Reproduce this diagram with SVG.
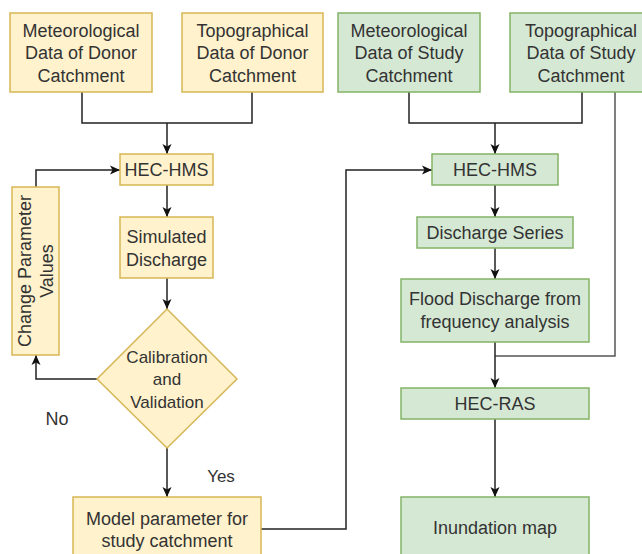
<svg xmlns="http://www.w3.org/2000/svg" width="642" height="554" viewBox="0 0 642 554">
<defs>
<marker id="arr" viewBox="0 0 10 10" refX="10" refY="5" markerWidth="10" markerHeight="10" markerUnits="userSpaceOnUse" orient="auto">
<path d="M0,0.5 L10,5 L0,9.5 L2.5,5 z" fill="#111"/>
</marker>
<style>
.y{fill:#fff2cc;stroke:#d6b656;stroke-width:1.5}
.g{fill:#d5e8d4;stroke:#82b366;stroke-width:1.5}
text{font-family:"Liberation Sans",Arial,sans-serif;font-size:18px;fill:#333;text-anchor:middle}
.s{font-size:17px}
.c{fill:none;stroke:#222;stroke-width:1.5}
</style>
</defs>
<rect width="642" height="554" fill="#fff"/>
<g id="connectors">
<path class="c" d="M82,92 V123 H252 V92"/>
<path class="c" d="M167,123 V154" marker-end="url(#arr)"/>
<path class="c" d="M167,185 V217" marker-end="url(#arr)"/>
<path class="c" d="M167,278 V309" marker-end="url(#arr)"/>
<path class="c" d="M167,448 V497" marker-end="url(#arr)"/>
<path class="c" d="M97,379 H36 V355" marker-end="url(#arr)"/>
<path class="c" d="M36,187 V170 H120" marker-end="url(#arr)"/>
<path class="c" d="M261,529 H346 V170 H432" marker-end="url(#arr)"/>
<path class="c" d="M409,92 V123 H582 V92"/>
<path class="c" d="M495,123 V154" marker-end="url(#arr)"/>
<path class="c" d="M495,185 V217" marker-end="url(#arr)"/>
<path class="c" d="M495,248 V279" marker-end="url(#arr)"/>
<path class="c" d="M615,92 V356 H495" style="stroke:#555"/>
<path class="c" d="M495,342 V388" marker-end="url(#arr)"/>
<path class="c" d="M495,419 V497" marker-end="url(#arr)"/>
</g>
<g id="met-donor"><rect class="y" x="10" y="13" width="142" height="79"/>
<text x="81" y="36.5">Meteorological</text><text x="81" y="59">Data of Donor</text><text x="81" y="81.5">Catchment</text></g>
<g id="topo-donor"><rect class="y" x="182" y="13" width="141" height="79"/>
<text x="252.5" y="36.5">Topographical</text><text x="252.5" y="59">Data of Donor</text><text x="252.5" y="81.5">Catchment</text></g>
<g id="met-study"><rect class="g" x="338" y="13" width="142" height="79"/>
<text x="409" y="36.5">Meteorological</text><text x="409" y="59">Data of Study</text><text x="409" y="81.5">Catchment</text></g>
<g id="topo-study"><rect class="g" x="510" y="13" width="144" height="79"/>
<text x="581" y="36.5">Topographical</text><text x="581" y="59">Data of Study</text><text x="581" y="81.5">Catchment</text></g>
<g id="hms-left"><rect class="y" x="120" y="154" width="93" height="31"/>
<text x="166.5" y="176">HEC-HMS</text></g>
<g id="sim-discharge"><rect class="y" x="120" y="217" width="93" height="61"/>
<text x="166.5" y="243">Simulated</text><text x="166.5" y="265.5">Discharge</text></g>
<g id="change-param"><rect class="y" x="12" y="187" width="47" height="168"/>
<g transform="translate(35.5,271) rotate(-90)"><text x="0" y="-5">Change Parameter</text><text x="0" y="17.5">Values</text></g></g>
<g id="calib"><path class="y" d="M167,309 L237,379 L167,448 L97,379 Z"/>
<text class="s" x="167" y="363">Calibration</text><text class="s" x="167" y="385">and</text><text class="s" x="167" y="408">Validation</text></g>
<g id="model-param"><rect class="y" x="73" y="497" width="188" height="64"/>
<text x="167" y="524.5">Model parameter for</text><text x="167" y="547">study catchment</text></g>
<g id="hms-right"><rect class="g" x="432" y="154" width="126" height="31"/>
<text x="495" y="176">HEC-HMS</text></g>
<g id="discharge-series"><rect class="g" x="417" y="217" width="156" height="31"/>
<text x="495" y="239">Discharge Series</text></g>
<g id="flood-discharge"><rect class="g" x="401" y="279" width="188" height="63"/>
<text x="495" y="305">Flood Discharge from</text><text x="495" y="327.5">frequency analysis</text></g>
<g id="hec-ras"><rect class="g" x="401" y="388" width="188" height="31"/>
<text x="495" y="410">HEC-RAS</text></g>
<g id="inundation"><rect class="g" x="401" y="497" width="188" height="64"/>
<text x="495" y="534">Inundation map</text></g>
<g id="labels"><text x="57" y="424.5">No</text><text class="s" x="221" y="482">Yes</text></g>
</svg>
